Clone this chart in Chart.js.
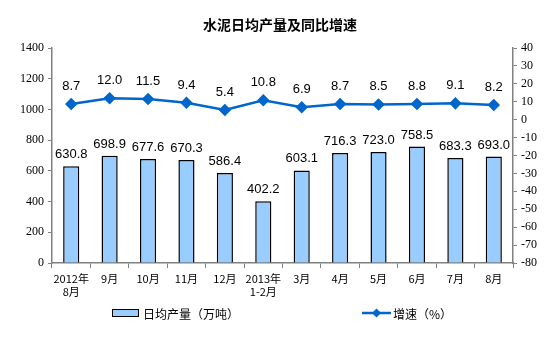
<!DOCTYPE html>
<html>
<head>
<meta charset="utf-8">
<script src="https://cdn.jsdelivr.net/npm/chart.js@4.4.0/dist/chart.umd.min.js"></script>
<style>
  html, body { margin: 0; padding: 0; background: #fff; }
  #wrap { width: 560px; height: 350px; }
</style>
</head>
<body>
<div id="wrap"><canvas id="cementChart" width="560" height="350"></canvas></div>
<script>
// chart data
const months = [['2012年', '8月'], '9月', '10月', '11月', '12月', ['2013年', '1-2月'], '3月', '4月', '5月', '6月', '7月', '8月'];
const dailyOutput = [630.8, 698.9, 677.6, 670.3, 586.4, 402.2, 603.1, 716.3, 723.0, 758.5, 683.3, 693.0];
const growthRate = [8.7, 12.0, 11.5, 9.4, 5.4, 10.8, 6.9, 8.7, 8.5, 8.8, 9.1, 8.2];
const chartTitle = '水泥日均产量及同比增速';

const cnFont = '"Noto Sans CJK SC", sans-serif';
const numFont = '"Liberation Serif", "Times New Roman", serif';
const lblFont = '"Liberation Sans", Arial, sans-serif';

// draws the title, value labels and the legend
const extrasPlugin = {
    id: 'extras',
    afterDatasetsDraw(chart) {
        const ctx = chart.ctx;
        ctx.save();
        ctx.fillStyle = '#000';
        ctx.textAlign = 'center';
        ctx.textBaseline = 'alphabetic';
        ctx.font = '13px ' + lblFont;

        chart.getDatasetMeta(0).data.forEach((bar, i) => {
            ctx.fillText(dailyOutput[i].toFixed(1), bar.x, bar.y - 8);
        });
        chart.getDatasetMeta(1).data.forEach((pt, i) => {
            ctx.fillText(growthRate[i].toFixed(1), pt.x, pt.y - 14);
        });

        // title
        ctx.font = 'bold 14px ' + cnFont;
        ctx.textBaseline = 'middle';
        ctx.fillText(chartTitle, 280, 25);

        // legend
        const ly = 313;
        ctx.textAlign = 'left';
        ctx.font = '12px ' + cnFont;
        ctx.fillStyle = '#99CCFF';
        ctx.fillRect(112, ly - 4, 27, 8);
        ctx.strokeStyle = '#000';
        ctx.lineWidth = 1;
        ctx.strokeRect(112.5, ly - 3.5, 26, 7);
        ctx.fillStyle = '#000';
        ctx.fillText(chart.data.datasets[0].label, 143, ly + 1);

        ctx.strokeStyle = '#0066CC';
        ctx.lineWidth = 2.5;
        ctx.beginPath();
        ctx.moveTo(362, ly);
        ctx.lineTo(391, ly);
        ctx.stroke();
        ctx.fillStyle = '#0066CC';
        ctx.beginPath();
        ctx.moveTo(376.5, ly - 4.5);
        ctx.lineTo(381, ly);
        ctx.lineTo(376.5, ly + 4.5);
        ctx.lineTo(372, ly);
        ctx.closePath();
        ctx.fill();
        ctx.fillStyle = '#000';
        ctx.fillText(chart.data.datasets[1].label, 393, ly + 1);
        ctx.restore();
    }
};

const axisColor = '#808080';

new Chart(document.getElementById('cementChart').getContext('2d'), {
    data: {
        labels: months,
        datasets: [{
            type: 'bar',
            label: '日均产量（万吨）',
            data: dailyOutput,
            backgroundColor: '#99CCFF',
            borderColor: '#000',
            borderWidth: 1.5,
            barPercentage: 0.42,
            categoryPercentage: 1,
            yAxisID: 'y',
            order: 2
        }, {
            type: 'line',
            label: '增速（%）',
            data: growthRate,
            borderColor: '#0066CC',
            backgroundColor: '#0066CC',
            borderWidth: 2.5,
            pointStyle: 'rectRot',
            pointRadius: 4.5,
            pointHoverRadius: 4.5,
            tension: 0,
            yAxisID: 'y1',
            order: 1
        }]
    },
    options: {
        responsive: false,
        animation: false,
        layout: { padding: { top: 48, bottom: 0, left: 0, right: 0 } },
        plugins: {
            legend: { display: false },
            title: { display: false },
            tooltip: { enabled: false }
        },
        scales: {
            x: {
                offset: true,
                grid: { offset: true, drawOnChartArea: false, color: axisColor, tickLength: 5 },
                border: { color: axisColor, width: 1.5 },
                ticks: {
                    color: '#000',
                    font: { family: cnFont, size: 11 },
                    maxRotation: 0,
                    autoSkip: false,
                    padding: 4
                },
                afterFit(scale) { scale.height = 87; }
            },
            y: {
                position: 'left',
                min: 0,
                max: 1400,
                ticks: {
                    stepSize: 200,
                    color: '#000',
                    font: { family: numFont, size: 12 },
                    padding: 4,
                    callback: v => String(v)
                },
                grid: { drawOnChartArea: false, color: axisColor, tickLength: 4 },
                border: { color: axisColor, width: 1.5 },
                afterFit(scale) { scale.width = 52; }
            },
            y1: {
                position: 'right',
                min: -80,
                max: 40,
                ticks: {
                    stepSize: 10,
                    color: '#000',
                    font: { family: numFont, size: 12 },
                    padding: 4,
                    callback: v => String(v)
                },
                grid: { drawOnChartArea: false, color: axisColor, tickLength: 4 },
                border: { color: axisColor, width: 1.5 },
                afterFit(scale) { scale.width = 47; }
            }
        }
    },
    plugins: [extrasPlugin]
});
</script>
</body>
</html>
